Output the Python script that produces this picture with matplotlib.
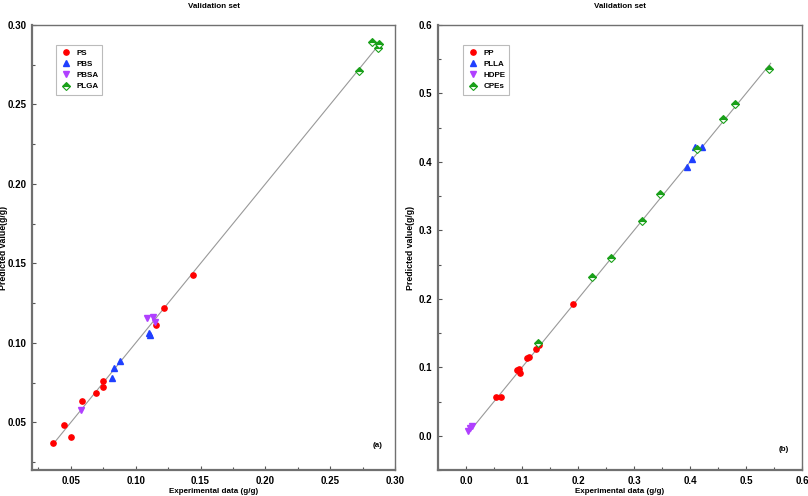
import matplotlib
matplotlib.use("Agg")
import matplotlib.pyplot as plt
import numpy as np

### 資料 (a)
ps_x = [0.0364, 0.0446, 0.0500, 0.0585, 0.0692, 0.0746, 0.0749, 0.1160, 0.1220, 0.1444]
ps_y = [0.0368, 0.0483, 0.0410, 0.0634, 0.0683, 0.0757, 0.0723, 0.1110, 0.1220, 0.1425]
pbs_x = [0.0815, 0.0833, 0.0877, 0.1100, 0.1110]
pbs_y = [0.0777, 0.0840, 0.0889, 0.1060, 0.1047]
pbsa_x = [0.0577, 0.1085, 0.1130, 0.1150]
pbsa_y = [0.0576, 0.1156, 0.1162, 0.1133]
plga_x = [0.2821, 0.2877, 0.2872, 0.2725]
plga_y = [0.2892, 0.2881, 0.2856, 0.2709]
line_a = [0.0365, 0.2880]

### 資料 (b)
pp_x = [0.1917, 0.1310, 0.1244, 0.1120, 0.1090, 0.0950, 0.0910, 0.0970, 0.0540, 0.0625]
pp_y = [0.1923, 0.1320, 0.1265, 0.1150, 0.1130, 0.0980, 0.0960, 0.0920, 0.0570, 0.0570]
plla_x = [0.3940, 0.4036, 0.4095, 0.4210]
plla_y = [0.3930, 0.4039, 0.4215, 0.4215]
hdpe_x = [0.0040, 0.0080, 0.0110]
hdpe_y = [0.0070, 0.0120, 0.0136]
cpe_x = [0.1286, 0.2256, 0.2595, 0.3140, 0.3464, 0.4125, 0.4590, 0.4810, 0.5405]
cpe_y = [0.1360, 0.2320, 0.2594, 0.3143, 0.3528, 0.4194, 0.4628, 0.4847, 0.5363]
line_b = [0.0050, 0.5440]

plt.rcParams["font.family"] = ["Liberation Sans", "DejaVu Sans"]
plt.rcParams["font.weight"] = "bold"

fig = plt.figure(figsize=(8.08, 4.96), dpi=100)
ax1 = fig.add_axes([0.0396, 0.0524, 0.4493, 0.8972])
ax2 = fig.add_axes([0.5421, 0.0524, 0.4505, 0.8972])

ms = 3.8
lab_fs = 5.8


def style(ax, ylab_x):
    for side in ["left", "bottom"]:
        ax.spines[side].set_color("#707070")
        ax.spines[side].set_linewidth(1.6)
    for side in ["right", "top"]:
        ax.spines[side].set_color("#707070")
        ax.spines[side].set_linewidth(1.0)
    ax.tick_params(which="both", direction="in", top=False, right=False,
                   labelsize=7, color="#555555", pad=4)
    ax.tick_params(which="major", length=3, width=0.8)
    ax.tick_params(which="minor", length=2, width=0.8)
    for lab in ax.get_xticklabels() + ax.get_yticklabels():
        lab.set_fontweight("bold")
    ax.set_xlabel("Experimental data (g/g)", fontsize=lab_fs, fontweight="bold", labelpad=2)
    ax.set_ylabel("Predicted value(g/g)", fontsize=6.3, fontweight="bold")
    ax.yaxis.set_label_coords(ylab_x, 0.5)
    ax.set_title("Validation set", fontsize=lab_fs, fontweight="bold", pad=12)


def add_legend(ax, x0):
    leg = ax.legend(loc="upper left", bbox_to_anchor=(x0, 0.955), fontsize=lab_fs,
                    frameon=True, fancybox=False, handletextpad=0.6,
                    borderpad=0.5, labelspacing=0.45, handlelength=1.4,
                    borderaxespad=0)
    leg.get_frame().set_edgecolor("#aaaaaa")
    leg.get_frame().set_linewidth(0.8)


## (a)
ax1.plot(line_a, line_a, color="#999999", lw=0.8, zorder=1)
ax1.plot(ps_x, ps_y, "o", color="red", ms=ms, ls="none", label="PS")
ax1.plot(pbs_x, pbs_y, "^", color="#1f3fff", ms=ms, ls="none", label="PBS")
ax1.plot(pbsa_x, pbsa_y, "v", color="#b040ff", ms=ms, ls="none", label="PBSA")
ax1.plot(plga_x, plga_y, "D", color="#1aa01a", ms=ms, ls="none", fillstyle="top",
         markerfacecoloralt="white", mew=0.8, label="PLGA")
ax1.set_xlim(0.02, 0.30)
ax1.set_ylim(0.02, 0.30)
ax1.set_xticks(np.arange(0.05, 0.301, 0.05))
ax1.set_yticks(np.arange(0.05, 0.301, 0.05))
ax1.set_xticks(np.arange(0.025, 0.30, 0.05), minor=True)
ax1.set_yticks(np.arange(0.025, 0.30, 0.05), minor=True)
ax1.xaxis.set_major_formatter(plt.FormatStrFormatter("%.2f"))
ax1.yaxis.set_major_formatter(plt.FormatStrFormatter("%.2f"))
style(ax1, -0.066)
ax1.text(0.965, 0.055, "(a)", transform=ax1.transAxes, fontsize=lab_fs,
         fontweight="bold", ha="right", va="center")
add_legend(ax1, 0.066)

## (b)
ax2.plot(line_b, line_b, color="#999999", lw=0.8, zorder=1)
ax2.plot(pp_x, pp_y, "o", color="red", ms=ms, ls="none", label="PP")
ax2.plot(plla_x, plla_y, "^", color="#1f3fff", ms=ms, ls="none", label="PLLA")
ax2.plot(hdpe_x, hdpe_y, "v", color="#b040ff", ms=ms, ls="none", label="HDPE")
ax2.plot(cpe_x, cpe_y, "D", color="#1aa01a", ms=ms, ls="none", fillstyle="top",
         markerfacecoloralt="white", mew=0.8, label="CPEs")
ax2.set_xlim(-0.05, 0.6)
ax2.set_ylim(-0.05, 0.6)
ax2.set_xticks(np.arange(0.0, 0.601, 0.1))
ax2.set_yticks(np.arange(0.0, 0.601, 0.1))
ax2.set_xticks(np.arange(-0.05, 0.6, 0.1), minor=True)
ax2.set_yticks(np.arange(-0.05, 0.6, 0.1), minor=True)
ax2.xaxis.set_major_formatter(plt.FormatStrFormatter("%.1f"))
ax2.yaxis.set_major_formatter(plt.FormatStrFormatter("%.1f"))
style(ax2, -0.063)
ax2.text(0.965, 0.045, "(b)", transform=ax2.transAxes, fontsize=lab_fs,
         fontweight="bold", ha="right", va="center")
add_legend(ax2, 0.069)

plt.savefig("out.png", dpi=100)
